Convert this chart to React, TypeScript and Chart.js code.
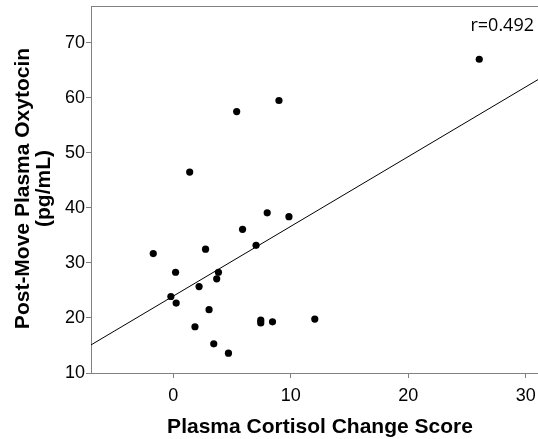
import { useEffect, useRef } from "react";
import { Chart, registerables } from "chart.js";

Chart.register(...registerables);

const cortisolChange = [-1.7, 0.2, -0.2, 0.25, 1.85, 2.2, 2.75, 3.05, 3.45, 3.7, 3.85, 4.7, 5.9, 7.05, 8.0, 7.45, 7.45, 8.45, 9.85, 12.05, 1.4, 5.4, 9.0, 26.05];
const oxytocin = [31.7, 28.3, 23.9, 22.7, 18.4, 25.7, 32.5, 21.5, 15.3, 27.1, 28.3, 13.6, 36.1, 33.2, 39.1, 19.6, 19.1, 19.3, 38.4, 19.8, 46.5, 57.5, 59.5, 67.0];
const fitX = [-7, 31.05];
const fitY = [15.1, 63.3];
const xTicks = [0, 10, 20, 30];
const yTicks = [10, 20, 30, 40, 50, 60, 70];
const xTitle = "Plasma Cortisol Change Score";
const yTitle = ["Post-Move Plasma Oxytocin", "(pg/mL)"];
const rLabel = "r=0.492";

const AXIS_GREY = "#808080";
const SANS = '"Liberation Sans", Arial, sans-serif';

const decorPlugin = {
  id: "decor",
  afterDraw(chart: any) {
    const { ctx, chartArea } = chart;
    ctx.save();
    // top border
    ctx.strokeStyle = AXIS_GREY;
    ctx.lineWidth = 1;
    ctx.beginPath();
    ctx.moveTo(chartArea.left, chartArea.top + 0.5);
    ctx.lineTo(chartArea.right, chartArea.top + 0.5);
    ctx.stroke();

    ctx.fillStyle = "#000";
    // x title
    ctx.font = `bold 21px ${SANS}`;
    ctx.textAlign = "center";
    ctx.textBaseline = "alphabetic";
    ctx.fillText(xTitle, 320, 433);

    // y title (rotated)
    ctx.save();
    ctx.translate(0, 188.5);
    ctx.rotate(-Math.PI / 2);
    ctx.textAlign = "center";
    ctx.textBaseline = "alphabetic";
    ctx.fillText(yTitle[0], 0, 29);
    ctx.fillText(yTitle[1], 0, 50);
    ctx.restore();

    // r label
    ctx.font = `18px "Open Sans", ${SANS}`;
    ctx.textAlign = "right";
    ctx.textBaseline = "alphabetic";
    ctx.fillText(rLabel, 534, 31);
    ctx.restore();
  },
};

export default function App() {
  const ref = useRef<HTMLCanvasElement>(null);

  useEffect(() => {
    if (!ref.current) return;
    const points = cortisolChange.map((x, i) => ({ x, y: oxytocin[i] }));
    const fit = fitX.map((x, i) => ({ x, y: fitY[i] }));
    const chart = new Chart(ref.current, {
      type: "scatter",
      data: {
        datasets: [
          {
            type: "line",
            data: fit,
            borderColor: "#000",
            borderWidth: 1,
            pointRadius: 0,
            showLine: true,
            fill: false,
            order: 2,
          } as any,
          {
            type: "scatter",
            data: points,
            backgroundColor: "#000",
            borderColor: "#000",
            borderWidth: 0,
            pointRadius: 3.6,
            order: 1,
          },
        ],
      },
      options: {
        responsive: false,
        animation: false,
        layout: { autoPadding: false, padding: { top: 6, left: 0, right: 0, bottom: 0 } },
        plugins: { legend: { display: false }, tooltip: { enabled: false } },
        scales: {
          x: {
            type: "linear",
            min: -7,
            max: 31.05,
            afterBuildTicks: (s: any) => {
              s.ticks = xTicks.map((v) => ({ value: v }));
            },
            afterFit: (s: any) => {
              s.height = 66;
              s.paddingLeft = 0;
              s.paddingRight = 0;
            },
            grid: { display: true, drawOnChartArea: false, drawTicks: true, tickLength: 5, color: AXIS_GREY },
            border: { display: true, color: AXIS_GREY, width: 1 },
            ticks: { color: "#000", font: { family: SANS, size: 18 }, padding: 7, maxRotation: 0, autoSkip: false },
          },
          y: {
            type: "linear",
            min: 10,
            max: 76.67,
            afterBuildTicks: (s: any) => {
              s.ticks = yTicks.map((v) => ({ value: v }));
            },
            afterFit: (s: any) => {
              s.width = 91;
              s.paddingTop = 0;
              s.paddingBottom = 0;
            },
            grid: { display: true, drawOnChartArea: false, drawTicks: true, tickLength: 5, color: AXIS_GREY },
            border: { display: true, color: AXIS_GREY, width: 1 },
            ticks: { color: "#000", font: { family: SANS, size: 18 }, padding: 1, autoSkip: false },
          },
        },
      },
      plugins: [decorPlugin],
    });
    return () => chart.destroy();
  }, []);

  return (
    <div style={{ position: "fixed", left: 0, top: 0, width: 538, height: 439, background: "#fff" }}>
      <canvas ref={ref} width={538} height={439} style={{ display: "block" }} />
    </div>
  );
}
